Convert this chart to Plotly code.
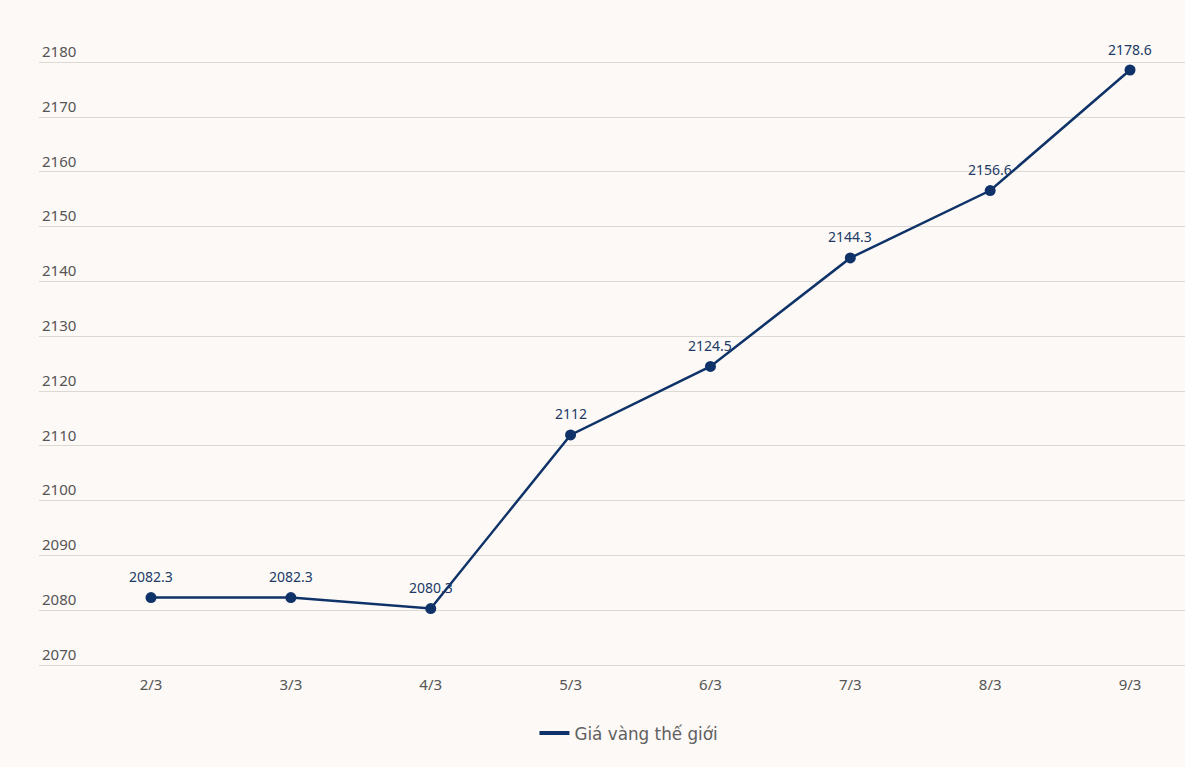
import plotly.graph_objects as go

dates = ["2/3", "3/3", "4/3", "5/3", "6/3", "7/3", "8/3", "9/3"]
prices = [2082.3, 2082.3, 2080.3, 2112, 2124.5, 2144.3, 2156.6, 2178.6]
labels = ["2082.3", "2082.3", "2080.3", "2112", "2124.5", "2144.3", "2156.6", "2178.6"]
series_name = "Giá vàng thế giới"

line_color = "#0f3368"
bg = "#fdf9f6"

fig = go.Figure()
fig.add_trace(go.Scatter(
    x=dates, y=prices, mode="lines+markers",
    line=dict(color=line_color, width=2.5),
    marker=dict(size=11, color=line_color),
    showlegend=False, cliponaxis=False, hoverinfo="x+y",
))
fig.add_trace(go.Scatter(
    x=[None], y=[None], mode="lines", name=series_name,
    line=dict(color=line_color, width=4), showlegend=True,
))

annotations = [
    dict(x=d, y=p, text=t, showarrow=False, yshift=21, xref="x", yref="y",
         font=dict(family="Noto Sans", size=14, color="#203a66"))
    for d, p, t in zip(dates, prices, labels)
]

fig.update_layout(
    width=1185, height=767,
    paper_bgcolor=bg, plot_bgcolor=bg,
    margin=dict(l=39, r=0, t=30, b=102),
    font=dict(family="Noto Sans", size=15, color="#555555"),
    annotations=annotations,
    xaxis=dict(
        type="category", range=[-0.8008, 7.393],
        showgrid=False, zeroline=False,
        showline=True, linecolor="#dcd8d4", linewidth=1,
        ticks="", ticklabelstandoff=6,
        tickfont=dict(size=15, color="#555555"),
    ),
    yaxis=dict(
        range=[2070, 2185.9], tickvals=list(range(2070, 2190, 10)),
        showgrid=True, gridcolor="#dcd8d4", gridwidth=1,
        zeroline=False, showline=False,
        ticklabelposition="inside top", ticks="",
        tickfont=dict(size=15, color="#555555"),
    ),
    legend=dict(
        orientation="h", xref="container", yref="container",
        x=0.451, xanchor="left", y=0.0443, yanchor="middle",
        font=dict(family="DejaVu Sans", size=16.8, color="#606060"),
        bgcolor="rgba(0,0,0,0)",
    ),
)

fig.write_html(
    "out.html",
    config={"displayModeBar": False},
    post_script="document.body.style.margin='0';document.body.style.background='%s';" % bg,
)
